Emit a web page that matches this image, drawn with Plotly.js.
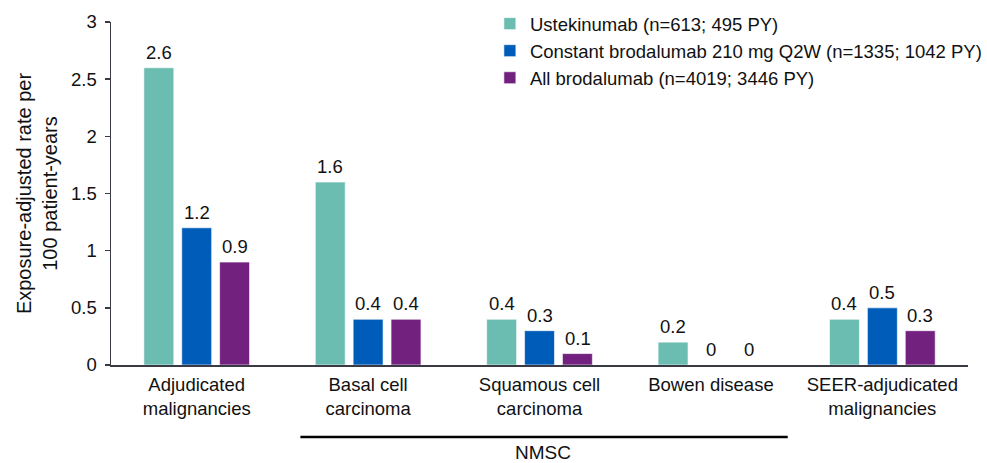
<!DOCTYPE html>
<html>
<head>
<meta charset="utf-8">
<script src="https://cdn.plot.ly/plotly-3.0.1.min.js"></script>
<style>html,body{margin:0;padding:0;background:#fff;}#chart{width:987px;height:463px;}</style>
</head>
<body>
<div id="chart"></div>
<script>
const categories = ["Adjudicated<br>malignancies", "Basal cell<br>carcinoma", "Squamous cell<br>carcinoma", "Bowen disease", "SEER-adjudicated<br>malignancies"];
const seriesNames = ["Ustekinumab (n=613; 495 PY)", "Constant brodalumab 210 mg Q2W (n=1335; 1042 PY)", "All brodalumab (n=4019; 3446 PY)"];
const ustekinumab = [2.6, 1.6, 0.4, 0.2, 0.4];
const constantBrodalumab = [1.2, 0.4, 0.3, 0, 0.5];
const allBrodalumab = [0.9, 0.4, 0.1, 0, 0.3];
const colors = ["#6bbcb1", "#005cb9", "#72217f"];
const yTicks = [0, 0.5, 1, 1.5, 2, 2.5, 3];
const yTickText = ["0", "0.5", "1", "1.5", "2", "2.5", "3"];

const FONT = "Liberation Sans, Arial, sans-serif";
const values = [ustekinumab, constantBrodalumab, allBrodalumab];
const traces = values.map((v, i) => ({
  type: "bar",
  name: seriesNames[i],
  x: categories,
  y: v,
  marker: {color: colors[i], line: {color: "rgba(255,255,255,0.6)", width: 1}}
}));

// value labels above each bar (offset to the bar's slot within its group)
const slotPx = 38;
const labelAnnotations = [];
values.forEach((v, i) => {
  v.forEach((val, j) => {
    labelAnnotations.push({
      x: categories[j], y: val, xref: "x", yref: "y",
      text: String(val), showarrow: false,
      xanchor: "center", yanchor: "bottom",
      xshift: (i - 1) * slotPx, yshift: 3,
      font: {family: FONT, size: 18.5, color: "#111"}
    });
  });
});

const layout = {
  width: 987, height: 463,
  margin: {l: 111, r: 0, t: 0, b: 98},
  paper_bgcolor: "#fff", plot_bgcolor: "#fff",
  font: {family: FONT, size: 18.5, color: "#111"},
  barmode: "group",
  bargap: 0.337,
  bargroupgap: 0.21,
  showlegend: true,
  legend: {
    x: 0.434, y: 0.986, xanchor: "left", yanchor: "top",
    font: {size: 18.5, color: "#111"},
    traceorder: "normal",
    bgcolor: "rgba(0,0,0,0)"
  },
  xaxis: {
    type: "category",
    domain: [0, 0.98174],
    range: [-0.5, 4.5],
    automargin: false,
    showline: true, linecolor: "#3a3a44", linewidth: 1.5,
    ticks: "", showgrid: false,
    tickfont: {size: 18.5, color: "#111"},
    ticklabelstandoff: 2,
    fixedrange: true
  },
  yaxis: {
    domain: [0, 0.9397],
    range: [0, 3],
    automargin: false,
    tickvals: yTicks, ticktext: yTickText,
    showline: true, linecolor: "#3a3a44", linewidth: 1.5,
    ticks: "outside", ticklen: 5, tickcolor: "#3a3a44", tickwidth: 1.5,
    ticklabelstandoff: 4,
    showgrid: false, zeroline: false,
    tickfont: {size: 18.5, color: "#111"},
    title: {text: "Exposure-adjusted rate per<br>100 patient-years", font: {size: 20, color: "#111"}, standoff: 8}
  },
  shapes: [{
    type: "line", xref: "x", yref: "paper",
    x0: 0.605, x1: 3.448, y0: -0.197, y1: -0.197,
    line: {color: "#000", width: 2.5}
  }],
  annotations: labelAnnotations.concat([{
    text: "NMSC", xref: "x", yref: "paper",
    x: 2.02, y: -0.241, xanchor: "center", yanchor: "middle",
    showarrow: false, font: {family: FONT, size: 19, color: "#111"}
  }])
};

Plotly.newPlot("chart", traces, layout, {displayModeBar: false, staticPlot: true});
</script>
</body>
</html>
